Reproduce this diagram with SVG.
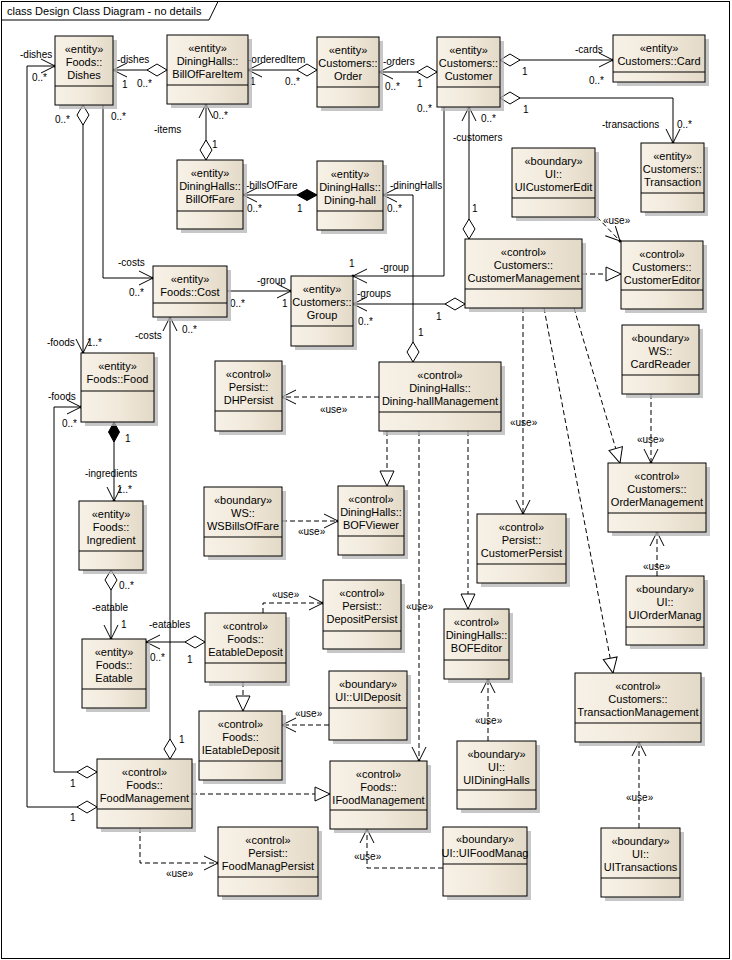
<svg xmlns="http://www.w3.org/2000/svg" width="732" height="960" viewBox="0 0 732 960">
<style>
.frame{fill:#fff;stroke:#000;stroke-width:1}
.sh{fill:#b4b4b4;opacity:0.75}
.box{fill:url(#g);stroke:#000;stroke-width:1}
.div{stroke:#000;stroke-width:1}
.t{font-family:"Liberation Sans",Arial,sans-serif;font-size:11px;text-anchor:middle;fill:#000}
.l{font-family:"Liberation Sans",Arial,sans-serif;font-size:10px;fill:#000}
.title{font-family:"Liberation Sans",Arial,sans-serif;font-size:11px;fill:#000}
.c{fill:none;stroke:#000;stroke-width:1}
.d{fill:none;stroke:#000;stroke-width:1;stroke-dasharray:5,3}
</style>
<defs>
<linearGradient id="g" x1="0" y1="0" x2="1" y2="0">
<stop offset="0" stop-color="#f7f1e7"/>
<stop offset="0.5" stop-color="#f1e9db"/>
<stop offset="1" stop-color="#e3d9c7"/>
</linearGradient>
<marker id="arr" markerUnits="userSpaceOnUse" viewBox="-16 -9 18 18" markerWidth="18" markerHeight="18" refX="0" refY="0" orient="auto">
<path d="M-14,-7 L0,0 L-14,7" fill="none" stroke="#000" stroke-width="1"/>
<circle r="1.5" fill="#000"/>
</marker>
<marker id="tri" markerUnits="userSpaceOnUse" viewBox="-17 -9 18 18" markerWidth="18" markerHeight="18" refX="0" refY="0" orient="auto">
<path d="M-15,-7 L0,0 L-15,7 Z" fill="#fff" stroke="#000" stroke-width="1"/>
</marker>
<marker id="dia" markerUnits="userSpaceOnUse" viewBox="-1 -8 22 16" markerWidth="22" markerHeight="16" refX="0" refY="0" orient="auto">
<path d="M0,0 L10,-6 L20,0 L10,6 Z" fill="#fff" stroke="#000" stroke-width="1"/>
</marker>
<marker id="fdia" markerUnits="userSpaceOnUse" viewBox="-1 -8 22 16" markerWidth="22" markerHeight="16" refX="0" refY="0" orient="auto">
<path d="M0,0 L10,-5.5 L20,0 L10,5.5 Z" fill="#000" stroke="#000" stroke-width="1"/>
</marker>
</defs>

<rect class="frame" x="1.5" y="1.5" width="728" height="957"/>
<path class="c" d="M1.5,20 H209 L218,1.5"/>
<text class="title" x="7" y="15">class Design Class Diagram - no details</text>

<g id="connectors">
<!-- associations -->
<path class="c" d="M167,70 H113" marker-start="url(#dia)" marker-end="url(#arr)"/>
<path class="c" d="M97,807 H27 V66 H55" marker-start="url(#dia)" marker-end="url(#arr)"/>
<path class="c" d="M97,772 H54 V407 H81" marker-start="url(#dia)" marker-end="url(#arr)"/>
<path class="c" d="M83,105 V353" marker-start="url(#dia)" marker-end="url(#arr)"/>
<path class="c" d="M103,105 V278 H153" marker-end="url(#arr)"/>
<path class="c" d="M170,759 V317" marker-start="url(#dia)" marker-end="url(#arr)"/>
<path class="c" d="M227,291 H291" marker-end="url(#arr)"/>
<path class="c" d="M317,70 H248" marker-start="url(#dia)" marker-end="url(#arr)"/>
<path class="c" d="M437,72 H379" marker-start="url(#dia)" marker-end="url(#arr)"/>
<path class="c" d="M500,60 H613" marker-start="url(#dia)" marker-end="url(#arr)"/>
<path class="c" d="M500,98 H673 V143" marker-start="url(#dia)" marker-end="url(#arr)"/>
<path class="c" d="M206,160 V104" marker-start="url(#dia)" marker-end="url(#arr)"/>
<path class="c" d="M317,195 H243" marker-start="url(#fdia)" marker-end="url(#arr)"/>
<path class="c" d="M413,362 V195 H383" marker-start="url(#dia)" marker-end="url(#arr)"/>
<path class="c" d="M469,239 V107" marker-start="url(#dia)" marker-end="url(#arr)"/>
<path class="c" d="M444,107 V276 H353" marker-end="url(#arr)"/>
<path class="c" d="M465,304 H353" marker-start="url(#dia)" marker-end="url(#arr)"/>
<path class="c" d="M114,422 V501" marker-start="url(#fdia)" marker-end="url(#arr)"/>
<path class="c" d="M111,570 V639" marker-start="url(#dia)" marker-end="url(#arr)"/>
<path class="c" d="M205,642 H146" marker-start="url(#dia)" marker-end="url(#arr)"/>
<!-- dependencies / realizations -->
<path class="d" d="M263,613 V603 H323" marker-end="url(#arr)"/>
<path class="d" d="M243,682 V711" marker-end="url(#tri)"/>
<path class="d" d="M329,725 H282" marker-end="url(#arr)"/>
<path class="d" d="M192,794 H330" marker-end="url(#tri)"/>
<path class="d" d="M140,828 V863 H218" marker-end="url(#arr)"/>
<path class="d" d="M443,868 H367 V829" marker-end="url(#arr)"/>
<path class="d" d="M419,431 V761" marker-end="url(#arr)"/>
<path class="d" d="M387,431 V486" marker-end="url(#tri)"/>
<path class="d" d="M468,431 V609" marker-end="url(#tri)"/>
<path class="d" d="M379,397 H282" marker-end="url(#arr)"/>
<path class="d" d="M282,521 H338" marker-end="url(#arr)"/>
<path class="d" d="M488,741 V679" marker-end="url(#arr)"/>
<path class="d" d="M582,274 H621" marker-end="url(#tri)"/>
<path class="d" d="M597,217 L620,241" marker-end="url(#arr)"/>
<path class="d" d="M523,308 V514" marker-end="url(#arr)"/>
<path class="d" d="M574,308 L620,463" marker-end="url(#tri)"/>
<path class="d" d="M544,308 L613,673" marker-end="url(#tri)"/>
<path class="d" d="M651,394 V463" marker-end="url(#arr)"/>
<path class="d" d="M657,576 V532" marker-end="url(#arr)"/>
<path class="d" d="M639,828 V742" marker-end="url(#arr)"/>
<!-- labels -->
<text class="l" x="117" y="63">-dishes</text>
<text class="l" x="122" y="88">1</text>
<text class="l" x="137" y="87">0..*</text>
<text class="l" x="20" y="58">-dishes</text>
<text class="l" x="32" y="81">0..*</text>
<text class="l" x="55" y="123">0..*</text>
<text class="l" x="111" y="120">0..*</text>
<text class="l" x="248" y="63">-orderedItem</text>
<text class="l" x="250" y="85">1</text>
<text class="l" x="285" y="85">0..*</text>
<text class="l" x="383" y="65">-orders</text>
<text class="l" x="385" y="90">0..*</text>
<text class="l" x="417" y="87">1</text>
<text class="l" x="522" y="75">1</text>
<text class="l" x="575" y="53">-cards</text>
<text class="l" x="589" y="84">0..*</text>
<text class="l" x="523" y="113">1</text>
<text class="l" x="602" y="128">-transactions</text>
<text class="l" x="677" y="128">0..*</text>
<text class="l" x="213" y="119">0..*</text>
<text class="l" x="154" y="133">-items</text>
<text class="l" x="212" y="148">1</text>
<text class="l" x="246" y="189">-billsOfFare</text>
<text class="l" x="247" y="212">0..*</text>
<text class="l" x="297" y="212">1</text>
<text class="l" x="390" y="189">-diningHalls</text>
<text class="l" x="387" y="212">0..*</text>
<text class="l" x="418" y="336">1</text>
<text class="l" x="417" y="112">0..*</text>
<text class="l" x="481" y="122">0..*</text>
<text class="l" x="453" y="141">-customers</text>
<text class="l" x="472" y="212">1</text>
<text class="l" x="380" y="271">-group</text>
<text class="l" x="349" y="267">1</text>
<text class="l" x="357" y="297">-groups</text>
<text class="l" x="358" y="325">0..*</text>
<text class="l" x="436" y="320">1</text>
<text class="l" x="118" y="266">-costs</text>
<text class="l" x="129" y="296">0..*</text>
<text class="l" x="257" y="284">-group</text>
<text class="l" x="230" y="307">0..*</text>
<text class="l" x="282" y="307">1</text>
<text class="l" x="135" y="339">-costs</text>
<text class="l" x="182" y="333">0..*</text>
<text class="l" x="47" y="346">-foods</text>
<text class="l" x="87" y="346">1..*</text>
<text class="l" x="48" y="400">-foods</text>
<text class="l" x="62" y="427">0..*</text>
<text class="l" x="125" y="442">1</text>
<text class="l" x="85" y="477">-ingredients</text>
<text class="l" x="117" y="493">1..*</text>
<text class="l" x="119" y="589">0..*</text>
<text class="l" x="92" y="611">-eatable</text>
<text class="l" x="121" y="628">1</text>
<text class="l" x="149" y="628">-eatables</text>
<text class="l" x="150" y="661">0..*</text>
<text class="l" x="187" y="663">1</text>
<text class="l" x="179" y="743">1</text>
<text class="l" x="70" y="787">1</text>
<text class="l" x="70" y="821">1</text>
<text class="l" x="320" y="413">«use»</text>
<text class="l" x="298" y="535">«use»</text>
<text class="l" x="406" y="610">«use»</text>
<text class="l" x="272" y="598">«use»</text>
<text class="l" x="295" y="717">«use»</text>
<text class="l" x="166" y="877">«use»</text>
<text class="l" x="354" y="860">«use»</text>
<text class="l" x="475" y="724">«use»</text>
<text class="l" x="603" y="224">«use»</text>
<text class="l" x="510" y="426">«use»</text>
<text class="l" x="637" y="443">«use»</text>
<text class="l" x="643" y="570">«use»</text>
<text class="l" x="626" y="801">«use»</text>
</g>

<g id="dishes"><rect class="sh" x="59" y="40" width="58" height="69"/><rect class="box" x="55" y="36" width="58" height="69"/><line class="div" x1="55" y1="86" x2="113" y2="86"/><text class="t" x="84" y="53">«entity»</text><text class="t" x="84" y="66">Foods::</text><text class="t" x="84" y="79">Dishes</text></g>
<g id="billOfFareItem"><rect class="sh" x="171" y="39" width="81" height="69"/><rect class="box" x="167" y="35" width="81" height="69"/><line class="div" x1="167" y1="85" x2="248" y2="85"/><text class="t" x="207.5" y="52">«entity»</text><text class="t" x="207.5" y="65">DiningHalls::</text><text class="t" x="207.5" y="78">BillOfFareItem</text></g>
<g id="order"><rect class="sh" x="321" y="41" width="62" height="70"/><rect class="box" x="317" y="37" width="62" height="70"/><line class="div" x1="317" y1="87" x2="379" y2="87"/><text class="t" x="348" y="54">«entity»</text><text class="t" x="348" y="67">Customers::</text><text class="t" x="348" y="80">Order</text></g>
<g id="customer"><rect class="sh" x="441" y="41" width="63" height="70"/><rect class="box" x="437" y="37" width="63" height="70"/><line class="div" x1="437" y1="87" x2="500" y2="87"/><text class="t" x="468.5" y="54">«entity»</text><text class="t" x="468.5" y="67">Customers::</text><text class="t" x="468.5" y="80">Customer</text></g>
<g id="card"><rect class="sh" x="617" y="39" width="92" height="47"/><rect class="box" x="613" y="35" width="92" height="47"/><line class="div" x1="613" y1="72" x2="705" y2="72"/><text class="t" x="659" y="52">«entity»</text><text class="t" x="659" y="65">Customers::Card</text></g>
<g id="transaction"><rect class="sh" x="645" y="147" width="63" height="69"/><rect class="box" x="641" y="143" width="63" height="69"/><line class="div" x1="641" y1="193" x2="704" y2="193"/><text class="t" x="672.5" y="160">«entity»</text><text class="t" x="672.5" y="173">Customers::</text><text class="t" x="672.5" y="186">Transaction</text></g>
<g id="uiCustomerEdit"><rect class="sh" x="516" y="152" width="83" height="69"/><rect class="box" x="512" y="148" width="83" height="69"/><line class="div" x1="512" y1="198" x2="595" y2="198"/><text class="t" x="553.5" y="165">«boundary»</text><text class="t" x="553.5" y="178">UI::</text><text class="t" x="553.5" y="191">UICustomerEdit</text></g>
<g id="billOfFare"><rect class="sh" x="181" y="164" width="66" height="69"/><rect class="box" x="177" y="160" width="66" height="69"/><line class="div" x1="177" y1="211" x2="243" y2="211"/><text class="t" x="210" y="177">«entity»</text><text class="t" x="210" y="190">DiningHalls::</text><text class="t" x="210" y="203">BillOfFare</text></g>
<g id="diningHall"><rect class="sh" x="321" y="165" width="66" height="69"/><rect class="box" x="317" y="161" width="66" height="69"/><line class="div" x1="317" y1="211" x2="383" y2="211"/><text class="t" x="350" y="178">«entity»</text><text class="t" x="350" y="191">DiningHalls::</text><text class="t" x="350" y="204">Dining-hall</text></g>
<g id="cost"><rect class="sh" x="157" y="270" width="74" height="51"/><rect class="box" x="153" y="266" width="74" height="51"/><line class="div" x1="153" y1="303" x2="227" y2="303"/><text class="t" x="190" y="283">«entity»</text><text class="t" x="190" y="296">Foods::Cost</text></g>
<g id="group"><rect class="sh" x="295" y="280" width="62" height="70"/><rect class="box" x="291" y="276" width="62" height="70"/><line class="div" x1="291" y1="326" x2="353" y2="326"/><text class="t" x="322" y="293">«entity»</text><text class="t" x="322" y="306">Customers::</text><text class="t" x="322" y="319">Group</text></g>
<g id="customerManagement"><rect class="sh" x="469" y="243" width="117" height="69"/><rect class="box" x="465" y="239" width="117" height="69"/><line class="div" x1="465" y1="289" x2="582" y2="289"/><text class="t" x="523.5" y="256">«control»</text><text class="t" x="523.5" y="269">Customers::</text><text class="t" x="523.5" y="282">CustomerManagement</text></g>
<g id="customerEditor"><rect class="sh" x="625" y="245" width="82" height="68"/><rect class="box" x="621" y="241" width="82" height="68"/><line class="div" x1="621" y1="290" x2="703" y2="290"/><text class="t" x="662" y="258">«control»</text><text class="t" x="662" y="271">Customers::</text><text class="t" x="662" y="284">CustomerEditor</text></g>
<g id="cardReader"><rect class="sh" x="626" y="329" width="77" height="69"/><rect class="box" x="622" y="325" width="77" height="69"/><line class="div" x1="622" y1="375" x2="699" y2="375"/><text class="t" x="660.5" y="342">«boundary»</text><text class="t" x="660.5" y="355">WS::</text><text class="t" x="660.5" y="368">CardReader</text></g>
<g id="food"><rect class="sh" x="85" y="357" width="73" height="69"/><rect class="box" x="81" y="353" width="73" height="69"/><line class="div" x1="81" y1="391" x2="154" y2="391"/><text class="t" x="117.5" y="370">«entity»</text><text class="t" x="117.5" y="383">Foods::Food</text></g>
<g id="dhPersist"><rect class="sh" x="219" y="365" width="67" height="70"/><rect class="box" x="215" y="361" width="67" height="70"/><line class="div" x1="215" y1="411" x2="282" y2="411"/><text class="t" x="248.5" y="378">«control»</text><text class="t" x="248.5" y="391">Persist::</text><text class="t" x="248.5" y="404">DHPersist</text></g>
<g id="diningHallManagement"><rect class="sh" x="383" y="366" width="122" height="69"/><rect class="box" x="379" y="362" width="122" height="69"/><line class="div" x1="379" y1="412" x2="501" y2="412"/><text class="t" x="440" y="379">«control»</text><text class="t" x="440" y="392">DiningHalls::</text><text class="t" x="440" y="405">Dining-hallManagement</text></g>
<g id="ingredient"><rect class="sh" x="83" y="505" width="64" height="69"/><rect class="box" x="79" y="501" width="64" height="69"/><line class="div" x1="79" y1="551" x2="143" y2="551"/><text class="t" x="111" y="518">«entity»</text><text class="t" x="111" y="531">Foods::</text><text class="t" x="111" y="544">Ingredient</text></g>
<g id="wsBillsOfFare"><rect class="sh" x="208" y="491" width="78" height="69"/><rect class="box" x="204" y="487" width="78" height="69"/><line class="div" x1="204" y1="537" x2="282" y2="537"/><text class="t" x="243" y="504">«boundary»</text><text class="t" x="243" y="517">WS::</text><text class="t" x="243" y="530">WSBillsOfFare</text></g>
<g id="bofViewer"><rect class="sh" x="342" y="490" width="66" height="69"/><rect class="box" x="338" y="486" width="66" height="69"/><line class="div" x1="338" y1="536" x2="404" y2="536"/><text class="t" x="371" y="503">«control»</text><text class="t" x="371" y="516">DiningHalls::</text><text class="t" x="371" y="529">BOFViewer</text></g>
<g id="customerPersist"><rect class="sh" x="481" y="518" width="89" height="69"/><rect class="box" x="477" y="514" width="89" height="69"/><line class="div" x1="477" y1="564" x2="566" y2="564"/><text class="t" x="521.5" y="531">«control»</text><text class="t" x="521.5" y="544">Persist::</text><text class="t" x="521.5" y="557">CustomerPersist</text></g>
<g id="orderManagement"><rect class="sh" x="612" y="467" width="98" height="69"/><rect class="box" x="608" y="463" width="98" height="69"/><line class="div" x1="608" y1="513" x2="706" y2="513"/><text class="t" x="657" y="480">«control»</text><text class="t" x="657" y="493">Customers::</text><text class="t" x="657" y="506">OrderManagement</text></g>
<g id="uiOrderManag"><rect class="sh" x="630" y="580" width="78" height="69"/><rect class="box" x="626" y="576" width="78" height="69"/><line class="div" x1="626" y1="627" x2="704" y2="627"/><text class="t" x="665" y="593">«boundary»</text><text class="t" x="665" y="606">UI::</text><text class="t" x="665" y="619">UIOrderManag</text></g>
<g id="eatable"><rect class="sh" x="86" y="643" width="64" height="69"/><rect class="box" x="82" y="639" width="64" height="69"/><line class="div" x1="82" y1="689" x2="146" y2="689"/><text class="t" x="114" y="656">«entity»</text><text class="t" x="114" y="669">Foods::</text><text class="t" x="114" y="682">Eatable</text></g>
<g id="eatableDeposit"><rect class="sh" x="209" y="617" width="81" height="69"/><rect class="box" x="205" y="613" width="81" height="69"/><line class="div" x1="205" y1="663" x2="286" y2="663"/><text class="t" x="245.5" y="630">«control»</text><text class="t" x="245.5" y="643">Foods::</text><text class="t" x="245.5" y="656">EatableDeposit</text></g>
<g id="depositPersist"><rect class="sh" x="327" y="584" width="78" height="69"/><rect class="box" x="323" y="580" width="78" height="69"/><line class="div" x1="323" y1="631" x2="401" y2="631"/><text class="t" x="362" y="597">«control»</text><text class="t" x="362" y="610">Persist::</text><text class="t" x="362" y="623">DepositPersist</text></g>
<g id="bofEditor"><rect class="sh" x="448" y="613" width="65" height="70"/><rect class="box" x="444" y="609" width="65" height="70"/><line class="div" x1="444" y1="660" x2="509" y2="660"/><text class="t" x="476.5" y="626">«control»</text><text class="t" x="476.5" y="639">DiningHalls::</text><text class="t" x="476.5" y="652">BOFEditor</text></g>
<g id="transactionManagement"><rect class="sh" x="579" y="677" width="126" height="69"/><rect class="box" x="575" y="673" width="126" height="69"/><line class="div" x1="575" y1="723" x2="701" y2="723"/><text class="t" x="638" y="690">«control»</text><text class="t" x="638" y="703">Customers::</text><text class="t" x="638" y="716">TransactionManagement</text></g>
<g id="uiDeposit"><rect class="sh" x="333" y="675" width="78" height="69"/><rect class="box" x="329" y="671" width="78" height="69"/><line class="div" x1="329" y1="708" x2="407" y2="708"/><text class="t" x="368" y="688">«boundary»</text><text class="t" x="368" y="701">UI::UIDeposit</text></g>
<g id="iEatableDeposit"><rect class="sh" x="203" y="715" width="83" height="69"/><rect class="box" x="199" y="711" width="83" height="69"/><line class="div" x1="199" y1="761" x2="282" y2="761"/><text class="t" x="240.5" y="728">«control»</text><text class="t" x="240.5" y="741">Foods::</text><text class="t" x="240.5" y="754">IEatableDeposit</text></g>
<g id="uiDiningHalls"><rect class="sh" x="461" y="745" width="79" height="68"/><rect class="box" x="457" y="741" width="79" height="68"/><line class="div" x1="457" y1="790" x2="536" y2="790"/><text class="t" x="496.5" y="758">«boundary»</text><text class="t" x="496.5" y="771">UI::</text><text class="t" x="496.5" y="784">UIDiningHalls</text></g>
<g id="foodManagement"><rect class="sh" x="101" y="763" width="95" height="69"/><rect class="box" x="97" y="759" width="95" height="69"/><line class="div" x1="97" y1="809" x2="192" y2="809"/><text class="t" x="144.5" y="776">«control»</text><text class="t" x="144.5" y="789">Foods::</text><text class="t" x="144.5" y="802">FoodManagement</text></g>
<g id="iFoodManagement"><rect class="sh" x="334" y="765" width="97" height="68"/><rect class="box" x="330" y="761" width="97" height="68"/><line class="div" x1="330" y1="810" x2="427" y2="810"/><text class="t" x="378.5" y="778">«control»</text><text class="t" x="378.5" y="791">Foods::</text><text class="t" x="378.5" y="804">IFoodManagement</text></g>
<g id="foodManagPersist"><rect class="sh" x="222" y="831" width="100" height="69"/><rect class="box" x="218" y="827" width="100" height="69"/><line class="div" x1="218" y1="877" x2="318" y2="877"/><text class="t" x="268" y="844">«control»</text><text class="t" x="268" y="857">Persist::</text><text class="t" x="268" y="870">FoodManagPersist</text></g>
<g id="uiFoodManag"><rect class="sh" x="447" y="831" width="84" height="69"/><rect class="box" x="443" y="827" width="84" height="69"/><line class="div" x1="443" y1="864" x2="527" y2="864"/><text class="t" x="485" y="843">«boundary»</text><text class="t" x="485" y="857">UI::UIFoodManag</text></g>
<g id="uiTransactions"><rect class="sh" x="605" y="832" width="79" height="69"/><rect class="box" x="601" y="828" width="79" height="69"/><line class="div" x1="601" y1="878" x2="680" y2="878"/><text class="t" x="640.5" y="845">«boundary»</text><text class="t" x="640.5" y="858">UI::</text><text class="t" x="640.5" y="871">UITransactions</text></g>
</svg>
